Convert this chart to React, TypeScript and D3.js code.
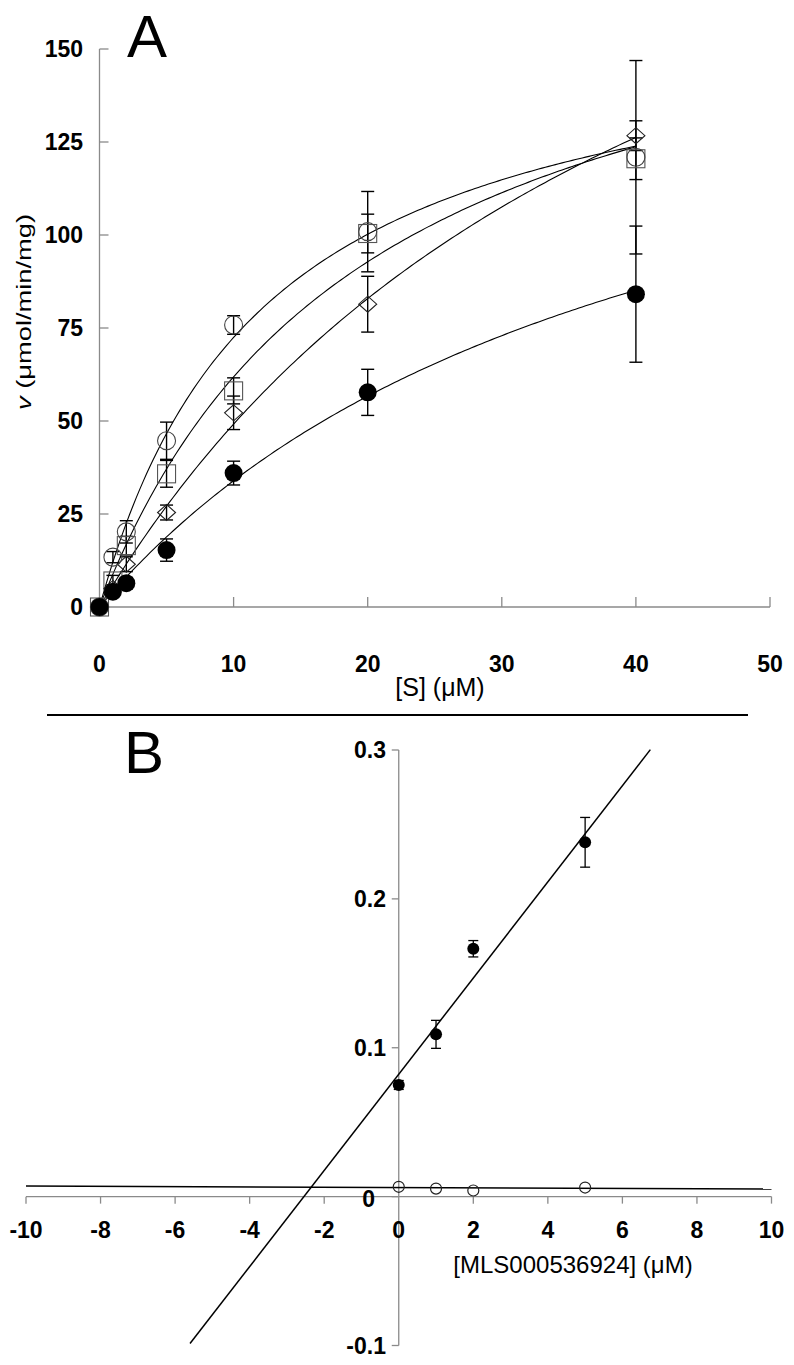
import React from "react";
import * as d3 from "d3";

// ---------- Panel A data ----------
const substrate = [0, 1, 2, 5, 10, 20, 40];
const vCircle = [0, 13.4, 20.2, 44.7, 75.8, 100.9, 120.9];
const eCircle = [0, 1.5, 3, 5, 2.5, 10.8, 26];
const vSquare = [0, 7, 16.5, 35.8, 58.1, 100.4, 120.5];
const eSquare = [0, 1.5, 2.5, 3.6, 3.5, 5.2, 5.6];
const vDiamond = [0, 5, 11.5, 25.4, 52.2, 81.4, 126.7];
const eDiamond = [0, 1, 2, 2, 4.5, 7.5, 4];
const vFilled = [0, 4.1, 6.4, 15.3, 36, 57.7, 84.1];
const eFilled = [0, 1, 1.5, 3, 3.2, 6.2, 18.3];
// Michaelis-Menten fit parameters (circle, square, diamond, filled)
const fitVmax = [162.3, 185.6, 264.5, 171.4];
const fitKm = [12.4, 20.0, 43.8, 40.5];
const xTicksA = [0, 10, 20, 30, 40, 50];
const yTicksA = [0, 25, 50, 75, 100, 125, 150];

// ---------- Panel B data ----------
const inhibitor = [0, 1, 2, 5];
const ratioFilled = [0.075, 0.109, 0.1665, 0.238];
const errFilledB = [0.003, 0.0094, 0.0055, 0.0167];
const ratioOpen = [0.0066, 0.0054, 0.0041, 0.0061];
const lineFilledB = { slope: 0.0323, intercept: 0.0822, from: -5.6, to: 6.75 };
const lineOpenB = { slope: -0.0001, intercept: 0.0061, from: -10, to: 10 };
const xTicksB = [-10, -8, -6, -4, -2, 0, 2, 4, 6, 8, 10];
const yTicksB = [-0.1, 0, 0.1, 0.2, 0.3];

const FONT = "'Liberation Sans', Arial, Helvetica, sans-serif";
const AXIS = "#8a8a8a";

export default function App() {
  const xA = d3.scaleLinear().domain([0, 50]).range([99.5, 770]);
  const yA = d3.scaleLinear().domain([0, 150]).range([607, 49]);
  const xB = d3.scaleLinear().domain([-10, 10]).range([26, 771.5]);
  const yB = d3.scaleLinear().domain([-0.1, 0.3]).range([1345.5, 750]);

  const curveLine = d3
    .line<number>()
    .x((s) => xA(s))
    .curve(d3.curveLinear);

  const fitPath = (i: number) => {
    const pts = d3.range(0, 40.01, 0.25);
    return curveLine.y((s) => yA((fitVmax[i] * s) / (fitKm[i] + s)))(pts) || "";
  };

  const errBarsA = (vals: number[], errs: number[], key: string) =>
    substrate.map((s, i) =>
      errs[i] > 0 ? (
        <g key={key + i} stroke="#000" strokeWidth={1.4}>
          <line x1={xA(s)} x2={xA(s)} y1={yA(vals[i] + errs[i])} y2={yA(vals[i] - errs[i])} />
          <line x1={xA(s) - 6.5} x2={xA(s) + 6.5} y1={yA(vals[i] + errs[i])} y2={yA(vals[i] + errs[i])} />
          <line x1={xA(s) - 6.5} x2={xA(s) + 6.5} y1={yA(vals[i] - errs[i])} y2={yA(vals[i] - errs[i])} />
        </g>
      ) : null
    );

  const fmtB = (v: number) => (v === 0 ? "0" : d3.format(".1f")(v).replace("\u2212", "-"));

  return (
    <svg
      width={794}
      height={1365}
      viewBox="0 0 794 1365"
      style={{ position: "absolute", left: 0, top: 0, background: "#fff" }}
      fontFamily={FONT}
    >
      <rect x={0} y={0} width={794} height={1365} fill="#fff" />

      {/* ================= Panel A ================= */}
      <text x={147} y={57} fontSize={60} textAnchor="middle" fill="#000">A</text>

      {/* axes */}
      <line x1={xA(0)} x2={xA(0)} y1={yA(0)} y2={yA(150)} stroke={AXIS} strokeWidth={1.3} />
      <line x1={xA(0)} x2={xA(50)} y1={yA(0)} y2={yA(0)} stroke={AXIS} strokeWidth={1.3} />
      {yTicksA.map((t) => (
        <g key={"ya" + t}>
          {t > 0 && <line x1={xA(0)} x2={xA(0) + 9} y1={yA(t)} y2={yA(t)} stroke={AXIS} strokeWidth={1.3} />}
          <text x={83} y={yA(t) + 8} fontSize={23} fontWeight="bold" textAnchor="end" fill="#000">{t}</text>
        </g>
      ))}
      {xTicksA.map((t) => (
        <g key={"xa" + t}>
          {t > 0 && <line x1={xA(t)} x2={xA(t)} y1={yA(0)} y2={yA(0) - 10} stroke={AXIS} strokeWidth={1.3} />}
          <text x={xA(t)} y={672} fontSize={23} fontWeight="bold" textAnchor="middle" fill="#000">{t}</text>
        </g>
      ))}
      <text x={440} y={696} fontSize={25} textAnchor="middle" fill="#000">[S] (μM)</text>
      <text transform="translate(31,312) rotate(-90) scale(1.3,1)" fontSize={21} textAnchor="middle" fill="#000">
        <tspan fontStyle="italic">v</tspan> (μmol/min/mg)
      </text>

      {/* fitted curves */}
      {fitVmax.map((_, i) => (
        <path key={"fit" + i} d={fitPath(i)} fill="none" stroke="#000" strokeWidth={1.1} />
      ))}

      {/* error bars */}
      {errBarsA(vCircle, eCircle, "ec")}
      {errBarsA(vSquare, eSquare, "es")}
      {errBarsA(vDiamond, eDiamond, "ed")}
      {errBarsA(vFilled, eFilled, "ef")}

      {/* markers */}
      {substrate.map((s, i) => (
        <rect key={"sq" + i} x={xA(s) - 9} y={yA(vSquare[i]) - 9} width={18} height={18} fill="none" stroke="#555" strokeWidth={1.1} />
      ))}
      {substrate.map((s, i) => (
        <path
          key={"dm" + i}
          d={`M${xA(s)},${yA(vDiamond[i]) - 8} L${xA(s) + 9},${yA(vDiamond[i])} L${xA(s)},${yA(vDiamond[i]) + 8} L${xA(s) - 9},${yA(vDiamond[i])} Z`}
          fill="none"
          stroke="#222"
          strokeWidth={1.1}
        />
      ))}
      {substrate.map((s, i) => (
        <circle key={"oc" + i} cx={xA(s)} cy={yA(vCircle[i])} r={9} fill="none" stroke="#444" strokeWidth={1.1} />
      ))}
      {substrate.map((s, i) => (
        <circle key={"fc" + i} cx={xA(s)} cy={yA(vFilled[i])} r={9} fill="#000" />
      ))}

      {/* separator */}
      <line x1={47} x2={748} y1={715} y2={715} stroke="#000" strokeWidth={2} />

      {/* ================= Panel B ================= */}
      <text x={144} y={773} fontSize={60} textAnchor="middle" fill="#000">B</text>

      <line x1={xB(0)} x2={xB(0)} y1={yB(-0.1)} y2={yB(0.3)} stroke={AXIS} strokeWidth={1.3} />
      <line x1={xB(-10)} x2={xB(10)} y1={yB(0)} y2={yB(0)} stroke={AXIS} strokeWidth={1.3} />
      {yTicksB.map((t) => (
        <g key={"yb" + t}>
          <line x1={xB(0) - 7} x2={xB(0)} y1={yB(t)} y2={yB(t)} stroke={AXIS} strokeWidth={1.3} />
          <text x={t === 0 ? 375 : 386} y={yB(t) + (t === 0 ? 10 : 8)} fontSize={23} fontWeight="bold" textAnchor="end" fill="#000">
            {fmtB(t)}
          </text>
        </g>
      ))}
      {xTicksB.map((t) => (
        <g key={"xb" + t}>
          {t !== 0 && <line x1={xB(t)} x2={xB(t)} y1={yB(0)} y2={yB(0) + 7} stroke={AXIS} strokeWidth={1.3} />}
          <text x={xB(t)} y={1238} fontSize={23} fontWeight="bold" textAnchor="middle" fill="#000">{String(t)}</text>
        </g>
      ))}
      <text x={573} y={1273} fontSize={24} textAnchor="middle" fill="#000">[MLS000536924] (μM)</text>

      {/* fit lines */}
      {[lineFilledB, lineOpenB].map((l, i) => (
        <line
          key={"lb" + i}
          x1={xB(l.from)}
          x2={xB(l.to)}
          y1={yB(l.intercept + l.slope * l.from)}
          y2={yB(l.intercept + l.slope * l.to)}
          stroke="#000"
          strokeWidth={1.5}
        />
      ))}

      {/* error bars + points */}
      {inhibitor.map((s, i) => (
        <g key={"eb" + i} stroke="#000" strokeWidth={1.3}>
          <line x1={xB(s)} x2={xB(s)} y1={yB(ratioFilled[i] + errFilledB[i])} y2={yB(ratioFilled[i] - errFilledB[i])} />
          <line x1={xB(s) - 5} x2={xB(s) + 5} y1={yB(ratioFilled[i] + errFilledB[i])} y2={yB(ratioFilled[i] + errFilledB[i])} />
          <line x1={xB(s) - 5} x2={xB(s) + 5} y1={yB(ratioFilled[i] - errFilledB[i])} y2={yB(ratioFilled[i] - errFilledB[i])} />
        </g>
      ))}
      {inhibitor.map((s, i) => (
        <circle key={"fb" + i} cx={xB(s)} cy={yB(ratioFilled[i])} r={6} fill="#000" />
      ))}
      {inhibitor.map((s, i) => (
        <circle key={"ob" + i} cx={xB(s)} cy={yB(ratioOpen[i])} r={5.5} fill="none" stroke="#222" strokeWidth={1.2} />
      ))}
    </svg>
  );
}
